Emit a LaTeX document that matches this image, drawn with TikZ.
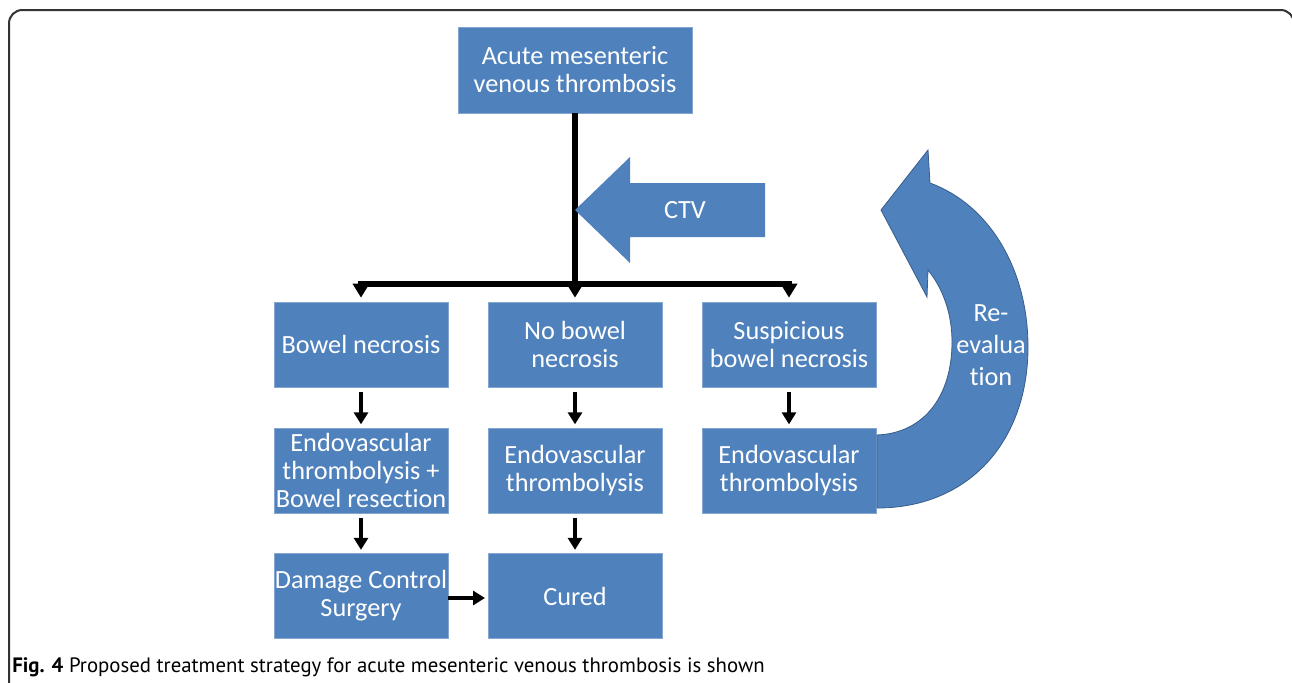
\documentclass[tikz,border=0pt]{standalone}
\usepackage{fontspec}
\setmainfont{Carlito}[Ligatures=NoCommon]
\newfontfamily\capfont{PT Sans}
\usetikzlibrary{arrows.meta,calc}
\definecolor{boxblue}{HTML}{4F81BD}
\definecolor{boxedge}{HTML}{385D8A}
\begin{document}
\begin{tikzpicture}[x=0.75pt,y=-0.75pt,
  box/.style={fill=boxblue, draw=boxblue!70!white, line width=0.5pt, text=white, align=center,
    font=\fontsize{19.7}{21}\selectfont, minimum width=130.5pt, minimum height=63.75pt, inner sep=0pt},
  conn/.style={line width=4.5pt, black},
  thinarrow/.style={line width=3pt, black, -{Triangle[width=10.5pt,length=9pt]}},
  bigtip/.style={-{Triangle[width=12pt,length=10.5pt]}},
  lbl/.style={text=white, align=center, font=\fontsize{19.7}{21}\selectfont, inner sep=0pt},
]
\useasboundingbox (0,0) rectangle (1292,682);
\clip (0,0) rectangle (1292,682);
\draw[line width=1.5pt, color=black!80, rounded corners=10pt] (9,720) -- (9,10) -- (1294,10) -- (1294,720);

% boxes
\node[box, minimum width=175.5pt, minimum height=64.5pt] (top) at (575,70) {Acute mesenteric\\venous thrombosis};
\node[box] (b1) at (361,344.5) {Bowel necrosis};
\node[box] (b2) at (575,344.5) {No bowel\\necrosis};
\node[box] (b3) at (789,344.5) {Suspicious\\bowel necrosis};
\node[box] (c1) at (361,470.5) {Endovascular\\thrombolysis +\\Bowel resection};
\node[box] (c2) at (575,470.5) {Endovascular\\thrombolysis};
\node[box] (c3) at (789,470.5) {Endovascular\\thrombolysis};
\node[box] (d1) at (361,596) {Damage Control\\Surgery};
\node[box] (d2) at (575,596) {Cured};

% branching connector
\coordinate (j) at (575,284);
\draw[conn] (top.south) -- (j);
\draw[conn, bigtip, shorten >=3pt] (j) -| (b1.north);
\draw[conn, bigtip, shorten >=3pt] (j) -- (b2.north);
\draw[conn, bigtip, shorten >=3pt] (j) -| (b3.north);

% vertical arrows
\draw[thinarrow, shorten <=3.5pt, shorten >=2.5pt] (b1.south) -- (c1.north);
\draw[thinarrow, shorten <=3.5pt, shorten >=2.5pt] (b2.south) -- (c2.north);
\draw[thinarrow, shorten <=3.5pt, shorten >=2.5pt] (b3.south) -- (c3.north);
\draw[thinarrow, shorten <=3.5pt, shorten >=2.5pt] (c1.south) -- (d1.north);
\draw[thinarrow, shorten <=3.5pt, shorten >=2.5pt] (c2.south) -- (d2.north);
\draw[thinarrow, shorten >=2pt] (d1.east) ++(0,2) coordinate (d1e) (d1e) -- (d1e -| d2.west);

% CTV arrow
\fill[boxblue] (575,210) -- (630,157) -- (630,183) -- (765,183) -- (765,237) -- (630,237) -- (630,263) -- cycle;
\node[lbl] (ctv) at (685,210) {CTV};

% re-evaluation curved arrow
\filldraw[fill=boxblue, draw=boxedge, line width=0.6pt]
  (877,508) .. controls (970,508) and (1028,440) .. (1028,347)
  .. controls (1028,270) and (990,205) .. (930,183)
  -- (928,150) -- (881,210) -- (927,297) -- (928,270)
  .. controls (944,290) and (952,315) .. (952,342)
  .. controls (952,395) and (925,433) .. (877,435) -- cycle;
\node[lbl, font=\fontsize{19.7}{24}\selectfont] (reeval) at (991,345) {Re-\\evalua\\tion};

% caption
\node[anchor=base west, inner sep=0pt, font=\capfont\fontsize{15.6}{18}\selectfont] (cap) at (12,672)
  {\textbf{Fig. 4} Proposed treatment strategy for acute mesenteric venous thrombosis is shown};
\end{tikzpicture}
\end{document}
